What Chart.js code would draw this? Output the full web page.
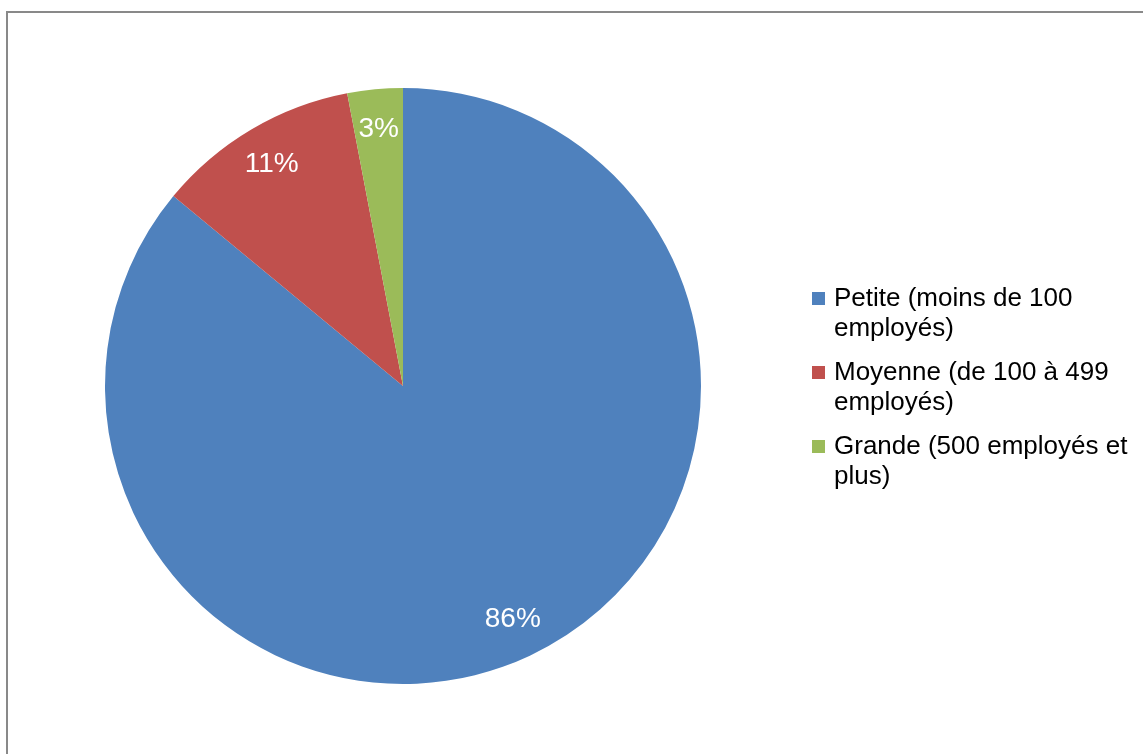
<!DOCTYPE html>
<html>
<head>
<meta charset="utf-8">
<script src="https://cdn.jsdelivr.net/npm/chart.js@4/dist/chart.umd.min.js"></script>
<style>
  html, body { margin: 0; padding: 0; background: #fff; overflow: hidden; }
  body { width: 1143px; height: 754px; position: relative; font-family: "Liberation Sans", Arial, sans-serif; }
  #frame { position: absolute; left: 6px; top: 11px; width: 1300px; height: 900px; border: 2px solid #898989; box-sizing: border-box; }
  #wrap { position: absolute; left: 0; top: 0; width: 1143px; height: 754px; }
  #legend { position: absolute; left: 812px; top: 282px; width: 330px; }
  .item { display: flex; align-items: flex-start; margin-bottom: 14px; }
  .sw { width: 13px; height: 13px; margin-top: 10px; margin-right: 9px; flex: none; }
  .txt { width: 305px; font-size: 26px; line-height: 30px; color: #000; }
</style>
</head>
<body>
<div id="frame"></div>
<div id="wrap"><canvas id="c" width="1143" height="754"></canvas></div>
<div id="legend"></div>
<script>
const categories = ["Petite (moins de 100 employés)", "Moyenne (de 100 à 499 employés)", "Grande (500 employés et plus)"];
const values = [86, 11, 3];
const colors = ["#4F81BD", "#C0504D", "#9BBB59"];

const labelPlugin = {
  id: 'pctLabels',
  afterDatasetsDraw(chart) {
    const ctx = chart.ctx;
    const meta = chart.getDatasetMeta(0);
    const total = values.reduce((a, b) => a + b, 0);
    ctx.save();
    ctx.fillStyle = '#ffffff';
    ctx.font = '28px "Liberation Sans", Arial, sans-serif';
    ctx.textAlign = 'center';
    ctx.textBaseline = 'middle';
    meta.data.forEach((arc, i) => {
      const p = arc.getProps(['x', 'y', 'startAngle', 'endAngle', 'outerRadius'], true);
      const mid = (p.startAngle + p.endAngle) / 2;
      const r = p.outerRadius * 0.865;
      const x = p.x + Math.cos(mid) * r;
      const y = p.y + Math.sin(mid) * r;
      ctx.fillText(Math.round(values[i] / total * 100) + '%', x, y);
    });
    ctx.restore();
  }
};

new Chart(document.getElementById('c'), {
  type: 'pie',
  data: {
    labels: categories,
    datasets: [{
      data: values,
      backgroundColor: colors,
      borderWidth: 0
    }]
  },
  options: {
    responsive: false,
    animation: false,
    layout: { padding: { left: 105, right: 442, top: 88, bottom: 70 } },
    plugins: { legend: { display: false }, tooltip: { enabled: false } }
  },
  plugins: [labelPlugin]
});

const leg = document.getElementById('legend');
categories.forEach((c, i) => {
  const it = document.createElement('div');
  it.className = 'item';
  const sw = document.createElement('div');
  sw.className = 'sw';
  sw.style.background = colors[i];
  const t = document.createElement('div');
  t.className = 'txt';
  t.textContent = c;
  it.appendChild(sw);
  it.appendChild(t);
  leg.appendChild(it);
});
</script>
</body>
</html>
